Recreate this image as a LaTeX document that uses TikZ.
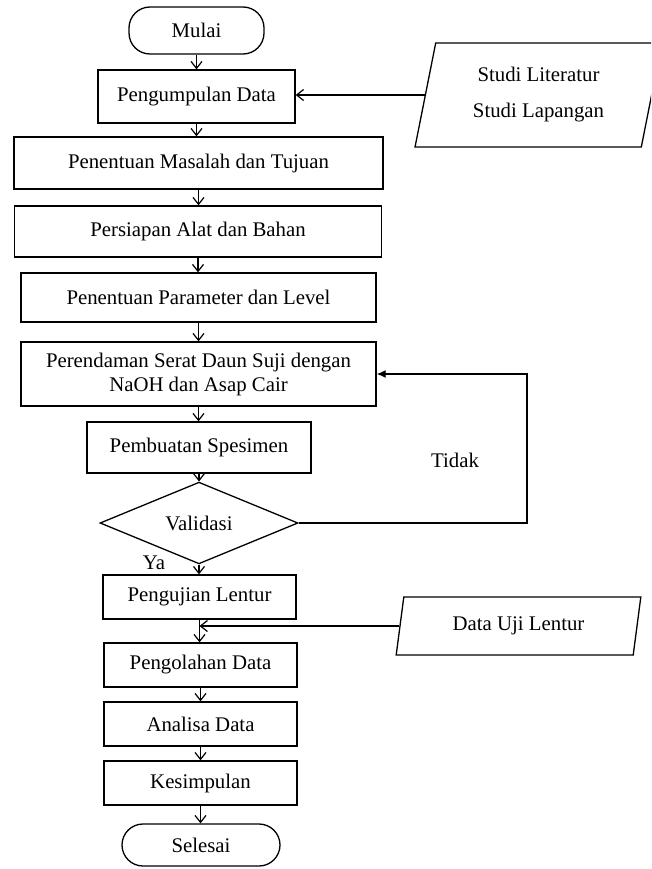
\documentclass[tikz,border=0pt]{standalone}
\usepackage{fontspec}
\setmainfont{Liberation Serif}
\usetikzlibrary{shapes.geometric,arrows.meta}
\tikzset{
  box/.style={draw, line width=1.3pt, rectangle, inner sep=0pt, align=center},
  term/.style={draw, line width=1.3pt, rectangle, rounded corners=21pt, inner sep=0pt},
  dec/.style={draw, line width=1.3pt, diamond, inner sep=0pt, minimum width=198pt, minimum height=70pt},
  io/.style={draw, line width=1.3pt, trapezium, trapezium left angle=76.5, trapezium right angle=103.5,
             trapezium stretches=true, inner sep=0pt, align=center},
  flow/.style={line width=1.3pt, -{Straight Barb[length=7pt,width=11pt,line width=1.2pt]}},
  back/.style={line width=1.3pt, -{Latex[length=9pt,width=8pt]}},
  lbl/.style={inner sep=0pt}
}
\begin{document}
\begin{tikzpicture}[x=1pt,y=-1pt,font=\fontsize{20.8}{24}\selectfont]
\useasboundingbox (0,0) rectangle (651,869);
\clip (0,0) rectangle (651,869);
\fill[white] (0,0) rectangle (651,869);

\node[term, minimum width=135pt, minimum height=47pt] (mulai) at (196.5,30.5) {Mulai};
\node[box, minimum width=197pt, minimum height=53pt] (kumpul) at (196.5,96.5) {Pengumpulan Data};
\node[io, minimum width=247pt, minimum height=104pt] (studi) at (538.5,95) {Studi Literatur\\[12pt]Studi Lapangan};
\node[box, minimum width=369pt, minimum height=52pt] (masalah) at (198.5,163) {Penentuan Masalah dan Tujuan};
\node[box, minimum width=367pt, minimum height=51pt] (persiapan) at (198,231.5) {Persiapan Alat dan Bahan};
\node[box, minimum width=355pt, minimum height=49pt] (parameter) at (198.5,297.5) {Penentuan Parameter dan Level};
\node[box, minimum width=355pt, minimum height=64pt] (rendam) at (198.5,374) {Perendaman Serat Daun Suji dengan\\NaOH dan Asap Cair};
\node[box, minimum width=224pt, minimum height=51pt] (spesimen) at (199,447.5) {Pembuatan Spesimen};
\node[dec] (validasi) at (199,523) {Validasi};
\node[box, minimum width=193pt, minimum height=44pt] (uji) at (199.5,597) {Pengujian Lentur};
\node[io, minimum width=245pt, minimum height=58pt] (datauji) at (518.5,626) {Data Uji Lentur};
\node[box, minimum width=193pt, minimum height=44pt] (olah) at (200.5,665) {Pengolahan Data};
\node[box, minimum width=193pt, minimum height=44pt] (analisa) at (200.5,724) {Analisa Data};
\node[box, minimum width=193pt, minimum height=44pt] (simpul) at (200.5,783) {Kesimpulan};
\node[term, minimum width=158pt, minimum height=42pt] (selesai) at (201,845) {Selesai};

\node[lbl] (tidak) at (455,460) {Tidak};
\node[lbl] (ya) at (154,563) {Ya};

\coordinate (fb) at (527,374);

\draw[flow] (mulai.south) -- (mulai.south |- kumpul.north);
\draw[flow] (kumpul.south) -- (kumpul.south |- masalah.north);
\draw[flow] (masalah.south) -- (masalah.south |- persiapan.north);
\draw[flow] (persiapan.south) -- (persiapan.south |- parameter.north);
\draw[flow] (parameter.south) -- (parameter.south |- rendam.north);
\draw[flow] (rendam.south) -- (rendam.south |- spesimen.north);
\draw[flow] (spesimen.south) -- (validasi.north);
\draw[flow] (validasi.south) -- (validasi.south |- uji.north);
\draw[flow] (uji.south) -- (uji.south |- olah.north);
\draw[flow] (olah.south) -- (olah.south |- analisa.north);
\draw[flow] (analisa.south) -- (analisa.south |- simpul.north);
\draw[flow] (simpul.south) -- (simpul.south |- selesai.north);

\draw[flow] (studi.west) -- (kumpul.east |- studi.west);
\draw[flow] (datauji.west) -- (uji.south |- datauji.west);
\draw[back] (validasi.east) -| (fb) -- (rendam.east);
\end{tikzpicture}
\end{document}
